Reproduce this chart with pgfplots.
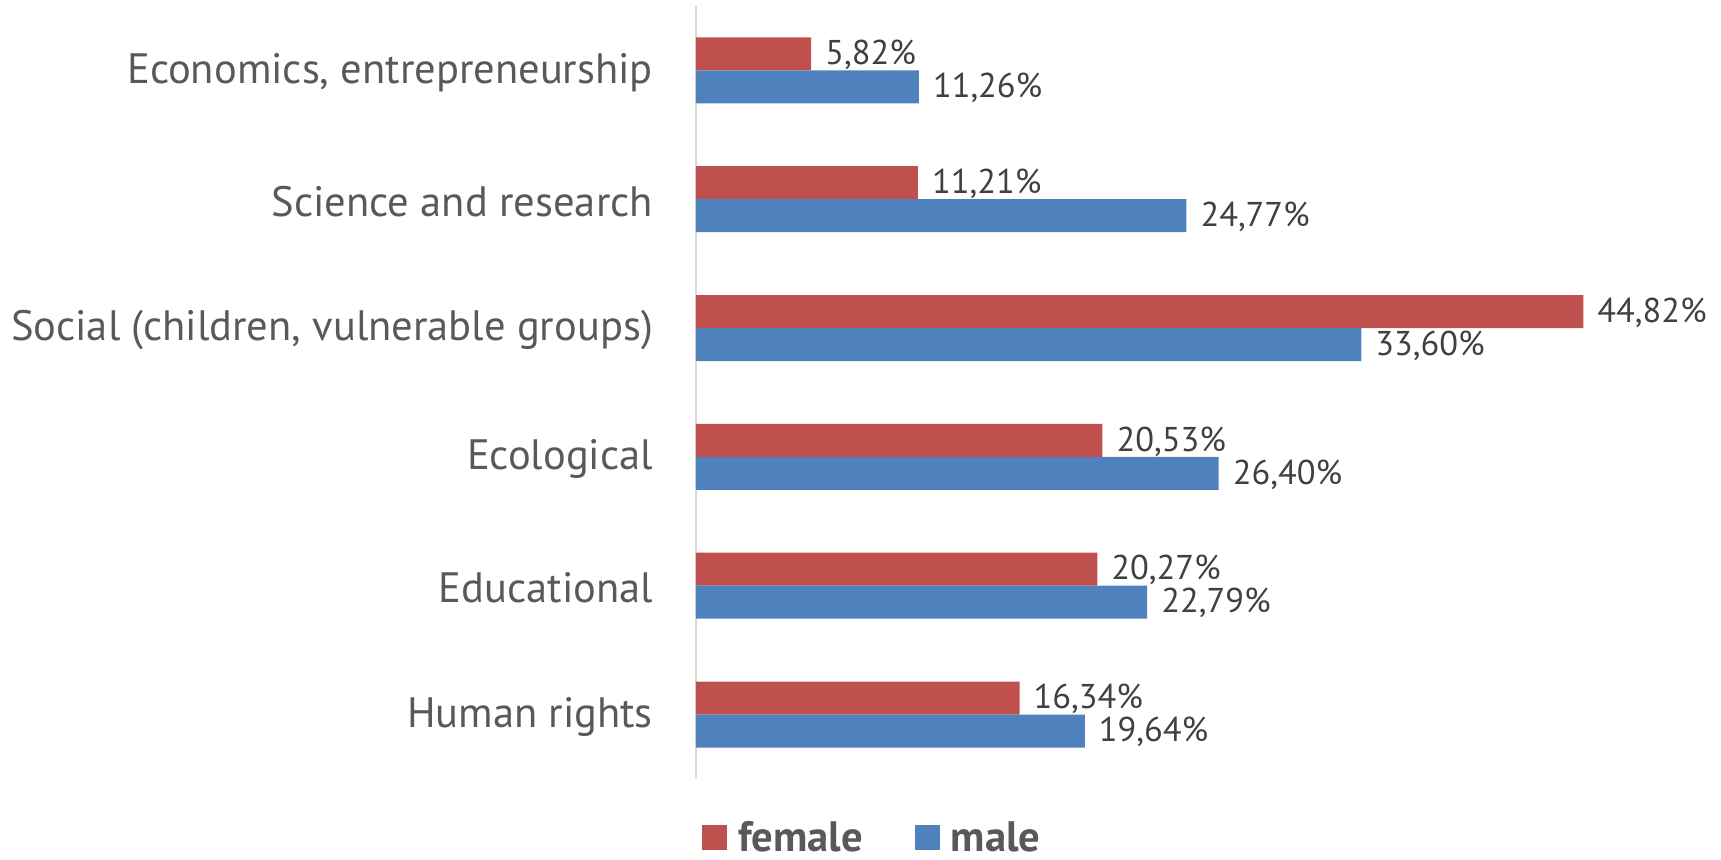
\documentclass[border=0pt]{standalone}
\usepackage{pgfplots}
\pgfplotsset{compat=1.18}
\usepackage{fontspec}
\setmainfont{PT Sans}
\definecolor{cred}{HTML}{C0504D}
\definecolor{cblue}{HTML}{4F81BD}
\definecolor{labgray}{HTML}{595959}
\definecolor{valgray}{HTML}{404040}
\definecolor{axgray}{HTML}{D9D9D9}
\begin{document}
\begin{tikzpicture}[x=1pt,y=1pt]
\path[use as bounding box] (0,0) rectangle (860.5,430);
\begin{axis}[
  at={(348pt,40.5pt)}, anchor=south west,
  scale only axis, width=495pt, height=386.5pt,
  xbar, bar width=16.5pt,
  xmin=0, xmax=50,
  ymin=-0.5, ymax=5.5, y dir=reverse,
  ytick={0,1,2,3,4,5},
  yticklabels={{Economics, entrepreneurship}, {Science and research}, {Social (children, vulnerable groups)}, {Ecological}, {Educational}, {Human rights}},
  yticklabel style={font=\fontsize{21.25}{24}\selectfont, text=labgray, xshift=-18pt, yshift=-1pt},
  major tick length=0pt,
  xtick=\empty,
  axis x line=none,
  axis y line*=left,
  y axis line style={draw=axgray, line width=0.75pt, -},
  nodes near coords={\pgfmathprintnumber[fixed,fixed zerofill,precision=2,use comma,assume math mode=true]{\pgfplotspointmeta}\%},
  point meta=x,
  every node near coord/.append style={font=\fontsize{17.2}{19}\selectfont, text=valgray, xshift=3.5pt, yshift=-0.5pt},
  legend style={at={(0.179,-0.076)}, anchor=center, draw=none, legend columns=2, font=\bfseries\fontsize{21.3}{23}\selectfont, text=labgray, /tikz/every even column/.append style={column sep=24pt}, /tikz/every odd column/.append style={column sep=3.5pt}},
  legend image code/.code={\fill[#1] (0pt,-6.25pt) rectangle (12.5pt,6.25pt);},
  clip=false,
]
\addplot[fill=cred, draw=none, bar shift=8.25pt] coordinates {(5.82,0) (11.21,1) (44.82,2) (20.53,3) (20.27,4) (16.34,5)};
\addplot[fill=cblue, draw=none, bar shift=-8.25pt] coordinates {(11.26,0) (24.77,1) (33.60,2) (26.40,3) (22.79,4) (19.64,5)};
\legend{female, male}
\end{axis}
\end{tikzpicture}
\end{document}
